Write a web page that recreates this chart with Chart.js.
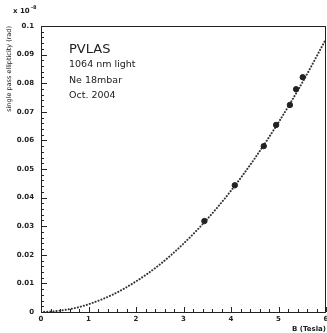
<!DOCTYPE html>
<html><head><meta charset="utf-8">
<script src="https://cdn.jsdelivr.net/npm/chart.js@4/dist/chart.umd.min.js"></script>
<style>html,body{margin:0;padding:0;background:#fff}#c{display:block}</style>
</head><body>
<canvas id="c" width="327" height="333"></canvas>
<script>
// Measured points: B field (Tesla) and single pass ellipticity (x1e-8 rad)
const pointB   = [3.44, 4.08, 4.69, 4.95, 5.24, 5.37, 5.51];
const pointEll = [0.0318, 0.0443, 0.0580, 0.0654, 0.0724, 0.0779, 0.0821];
// Dotted fit curve
const curveB   = [0, 0.25, 0.5, 0.75, 1, 1.5, 2, 2.5, 3, 3.5, 4, 4.5, 5, 5.5, 6];
const curveEll = [0, 0.0002, 0.0007, 0.0015, 0.0027, 0.0060, 0.0107, 0.0166, 0.0239, 0.0325, 0.0424, 0.0537, 0.0663, 0.0802, 0.0955];
const xTicks = [0, 1, 2, 3, 4, 5, 6];
const yTicks = [0, 0.01, 0.02, 0.03, 0.04, 0.05, 0.06, 0.07, 0.08, 0.09, 0.1];
const infoLines = ['1064 nm light', 'Ne 18mbar', 'Oct. 2004'];

const ink = '#222';
const FONT = 'DejaVu Sans';

const deco = {
  id: 'deco',
  afterDraw(chart) {
    const {ctx, chartArea: a, scales: {x, y}} = chart;
    ctx.save();
    ctx.strokeStyle = ink; ctx.lineWidth = 1;
    ctx.strokeRect(Math.round(a.left) + 0.5, Math.round(a.top) + 0.5,
                   Math.round(a.right - a.left) - 1, Math.round(a.bottom - a.top));
    ctx.beginPath();
    for (let i = 0; i <= 30; i++) {
      const v = i * 0.2;
      const px = Math.round(x.getPixelForValue(v)) + 0.5;
      const len = (i % 5 === 0) ? 5 : 3;
      ctx.moveTo(px, a.bottom); ctx.lineTo(px, a.bottom - len);
    }
    for (let i = 0; i <= 50; i++) {
      const v = i * 0.002;
      const py = Math.round(y.getPixelForValue(v)) + 0.5;
      const len = (i % 5 === 0) ? 6 : 3;
      ctx.moveTo(a.left, py); ctx.lineTo(a.left + len, py);
    }
    ctx.stroke();
    ctx.fillStyle = ink;
    ctx.textBaseline = 'alphabetic';
    ctx.font = `bold 7px ${FONT}`;
    ctx.fillText('x 10', 13, 13);
    ctx.font = `bold 5px ${FONT}`;
    ctx.fillText('-8', 31, 9);
    ctx.font = `13px ${FONT}`;
    ctx.fillText('PVLAS', 69, 53);
    ctx.font = `9.5px ${FONT}`;
    infoLines.forEach((t, i) => ctx.fillText(t, 69, 67 + i * 15.5));
    ctx.restore();
  }
};

new Chart(document.getElementById('c'), {
  type: 'scatter',
  data: {
    datasets: [
      {
        type: 'scatter',
        data: pointB.map((b, i) => ({x: b, y: pointEll[i]})),
        backgroundColor: ink, borderColor: ink,
        pointRadius: 2.7, pointHoverRadius: 2.7, order: 0
      },
      {
        type: 'line',
        data: curveB.map((b, i) => ({x: b, y: curveEll[i]})),
        borderColor: '#333', borderWidth: 2,
        borderDash: [0.1, 3], borderCapStyle: 'round',
        cubicInterpolationMode: 'monotone',
        pointRadius: 0, fill: false, order: 1
      }
    ]
  },
  plugins: [deco],
  options: {
    responsive: false, animation: false,
    layout: {autoPadding: false, padding: {top: 26, right: 1, left: 0, bottom: 0}},
    plugins: {legend: {display: false}, tooltip: {enabled: false}},
    scales: {
      x: {
        type: 'linear', min: 0, max: 6,
        afterBuildTicks: s => { s.ticks = xTicks.map(v => ({value: v})); },
        afterFit: s => { s.height = 21; s.paddingLeft = 0; s.paddingRight = 0; },
        grid: {display: false, drawTicks: false},
        border: {display: false},
        ticks: {color: ink, font: {family: FONT, size: 7, weight: 'bold'}, padding: 3, maxRotation: 0,
                callback: v => String(v)},
        title: {display: true, text: 'B (Tesla)', align: 'end', color: ink,
                font: {family: FONT, size: 7, weight: 'bold'}, padding: {top: 0, bottom: 0}}
      },
      y: {
        type: 'linear', min: 0, max: 0.1,
        afterBuildTicks: s => { s.ticks = yTicks.map(v => ({value: v})); },
        afterFit: s => { s.width = 41; s.paddingTop = 0; s.paddingBottom = 0; },
        grid: {display: false, drawTicks: false},
        border: {display: false},
        ticks: {color: ink, font: {family: FONT, size: 7, weight: 'bold'}, padding: 7,
                callback: v => v === 0 ? '0' : String(+v.toFixed(2))},
        title: {display: true, text: 'single pass ellipticity (rad)', align: 'end', color: ink,
                font: {family: FONT, size: 6.5}, padding: {top: 5, bottom: 0}}
      }
    }
  }
});
</script>
</body></html>
